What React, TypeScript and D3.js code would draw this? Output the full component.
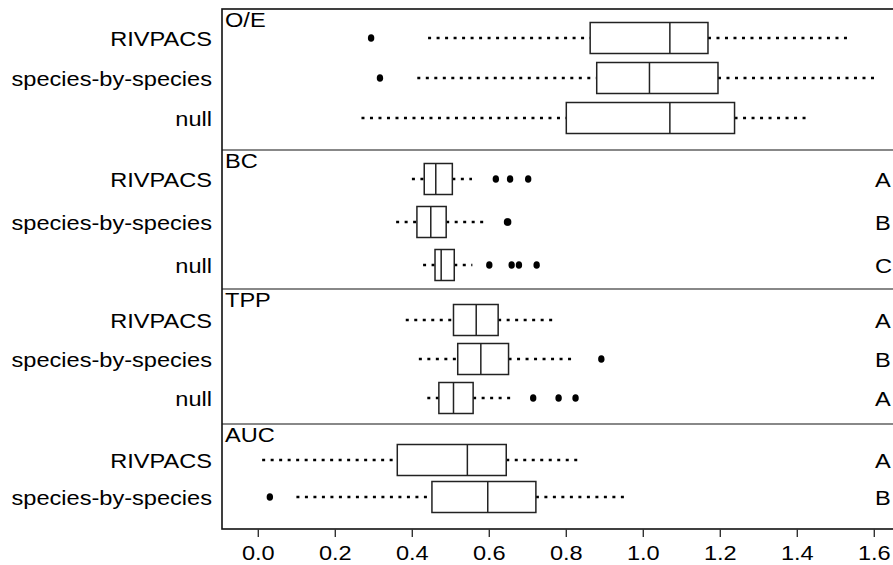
import React from "react";
import * as d3 from "d3";

// box stats per row: [lower whisker, Q1, median, Q3, upper whisker]
const panelNames = ["O/E", "BC", "TPP", "AUC"];
const methods3 = ["RIVPACS", "species-by-species", "null"];
const methods2 = ["RIVPACS", "species-by-species"];

const oeStats = [
  [0.441, 0.862, 1.069, 1.168, 1.539],
  [0.413, 0.879, 1.016, 1.194, 1.609],
  [0.268, 0.8, 1.069, 1.237, 1.425],
];
const oeOutliers = [[0.293], [0.316], []];
const oeLetters: string[] = [];

const bcStats = [
  [0.399, 0.431, 0.461, 0.504, 0.555],
  [0.358, 0.412, 0.448, 0.488, 0.586],
  [0.428, 0.459, 0.475, 0.509, 0.556],
];
const bcOutliers = [[0.617, 0.654, 0.701], [0.646, 0.649], [0.6, 0.658, 0.677, 0.723]];
const bcLetters = ["A", "B", "C"];

const tppStats = [
  [0.383, 0.507, 0.566, 0.623, 0.768],
  [0.417, 0.518, 0.578, 0.65, 0.818],
  [0.439, 0.469, 0.507, 0.558, 0.662],
];
const tppOutliers = [[], [0.891], [0.714, 0.78, 0.824]];
const tppLetters = ["A", "B", "A"];

const aucStats = [
  [0.01, 0.361, 0.543, 0.644, 0.837],
  [0.099, 0.451, 0.596, 0.721, 0.954],
];
const aucOutliers = [[], [0.03]];
const aucLetters = ["A", "B"];

const xTicks = [0, 0.2, 0.4, 0.6, 0.8, 1.0, 1.2, 1.4, 1.6];

export default function App() {
  const width = 893;
  const height = 565;
  const left = 222;
  const right = 905; // frame runs off the right edge
  const top = 9;
  const bottom = 529;
  const seps = [150, 289, 424];

  const x = d3.scaleLinear().domain([0, 1.6]).range([258.3, 874.3]);

  // row centres of each panel
  const rowRanges: [number, number][] = [
    [38, 118],
    [179, 265],
    [320, 398],
    [460, 497],
  ];
  const panelTops = [top, ...seps];
  const cats = [methods3, methods3, methods3, methods2];
  const stats = [oeStats, bcStats, tppStats, aucStats];
  const outs = [oeOutliers, bcOutliers, tppOutliers, aucOutliers];
  const letters = [oeLetters, bcLetters, tppLetters, aucLetters];

  const boxH = 31;
  const font = "'Liberation Sans', Arial, sans-serif";
  const fs = 19.5;
  const sx = 1.21; // the source text is drawn wide
  const tr = (tx: number, ty: number) => `translate(${tx},${ty}) scale(${sx},1)`;

  return (
    <svg width={width} height={height} style={{ position: "absolute", left: 0, top: 0, background: "#fff" }}>
      {panelNames.map((p, pi) => {
        const y = d3.scalePoint<string>().domain(cats[pi]).range(rowRanges[pi]);
        return (
          <g key={p}>
            <text transform={tr(left + 3, panelTops[pi] + 13)} fontFamily={font} fontSize={fs} dominantBaseline="middle">
              {p}
            </text>
            {cats[pi].map((m, ri) => {
              const [lo, q1, med, q3, hi] = stats[pi][ri];
              const cy = y(m) as number;
              return (
                <g key={m}>
                  <text transform={tr(212, cy + 1)} textAnchor="end" dominantBaseline="central" fontFamily={font} fontSize={fs}>
                    {m}
                  </text>
                  <line x1={x(lo)} x2={x(q1)} y1={cy} y2={cy} stroke="#000" strokeWidth={2.7} strokeDasharray="3,5.5" />
                  <line x1={x(q3)} x2={x(hi)} y1={cy} y2={cy} stroke="#000" strokeWidth={2.7} strokeDasharray="3,5.5" />
                  <rect x={x(q1)} y={cy - boxH / 2} width={x(q3) - x(q1)} height={boxH} fill="#fff" stroke="#222" strokeWidth={1.5} />
                  <line x1={x(med)} x2={x(med)} y1={cy - boxH / 2} y2={cy + boxH / 2} stroke="#222" strokeWidth={1.5} />
                  {outs[pi][ri].map((v, oi) => (
                    <ellipse key={oi} cx={x(v)} cy={cy} rx={3.2} ry={3.8} fill="#000" />
                  ))}
                  {letters[pi][ri] && (
                    <text transform={tr(875, cy + 1)} dominantBaseline="central" fontFamily={font} fontSize={fs}>
                      {letters[pi][ri]}
                    </text>
                  )}
                </g>
              );
            })}
          </g>
        );
      })}
      {seps.map((s) => (
        <line key={s} x1={left} x2={right} y1={s} y2={s} stroke="#888" strokeWidth={2} />
      ))}
      <rect x={left} y={top} width={right - left} height={bottom - top} fill="none" stroke="#111" strokeWidth={1.6} />
      {xTicks.map((t) => (
        <g key={t}>
          <line x1={x(t)} x2={x(t)} y1={bottom} y2={bottom + 8} stroke="#333" strokeWidth={1.4} />
          <text transform={tr(x(t), bottom + 24)} textAnchor="middle" dominantBaseline="central" fontFamily={font} fontSize={fs}>
            {t.toFixed(1)}
          </text>
        </g>
      ))}
    </svg>
  );
}
